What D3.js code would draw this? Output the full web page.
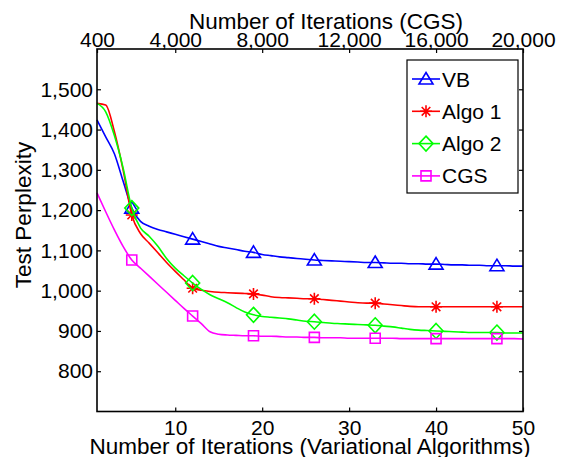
<!DOCTYPE html>
<html>
<head>
<meta charset="utf-8">
<script src="https://cdn.jsdelivr.net/npm/d3@7"></script>
<style>
  body { margin: 0; background: #fff; }
  text { font-family: "Liberation Sans", Arial, sans-serif; fill: #000; }
</style>
</head>
<body>
<div id="chart"></div>
<script>
// perplexity per iteration (1..50)
var vbVals = [1424, 1382, 1340, 1272, 1205, 1172, 1160, 1152, 1146, 1140,
  1134, 1128, 1122, 1116, 1110, 1106, 1102, 1098, 1095, 1090,
  1087, 1084, 1082, 1080, 1078, 1076, 1075, 1074, 1073, 1072,
  1071, 1070, 1070, 1069, 1068, 1068, 1067, 1067, 1066, 1066,
  1065, 1064, 1064, 1063, 1063, 1062, 1062, 1062, 1061, 1061]
var algo1Vals = [1465, 1461, 1395, 1300, 1188, 1142, 1118, 1094, 1070, 1048,
  1027, 1006, 1001, 998, 996, 995, 994, 993, 992, 989,
  985, 983, 982, 981, 980, 980, 978, 976, 974, 972,
  970, 969, 969, 967, 965, 963, 961, 960, 960, 960,
  960, 960, 960, 960, 960, 960, 960, 960, 960, 960]
var algo2Vals = [1465, 1444, 1385, 1305, 1205, 1156, 1135, 1110, 1080, 1056,
  1037, 1019, 1003, 990, 980, 970, 958, 947, 940, 936,
  934, 932, 930, 927, 924, 923, 921, 919, 918, 917,
  916, 915, 914, 912, 910, 907, 904, 902, 901, 900,
  899, 898, 897, 896, 896, 896, 896, 895, 895, 895]
var cgsVals = [1243, 1196, 1151, 1110, 1076, 1056, 1036, 1016, 996, 976,
  956, 937, 918, 898, 892, 890, 889, 888, 888, 887,
  887, 886, 885, 885, 884, 884, 883, 883, 883, 882,
  882, 882, 882, 882, 882, 881, 881, 881, 881, 881,
  881, 881, 881, 881, 881, 881, 881, 881, 881, 880]

var markerIters = [5, 12, 19, 26, 33, 40, 47]
var bottomTicks = [10, 20, 30, 40, 50]
var topTicks = [400, 4000, 8000, 12000, 16000, 20000]
var yTicks = [800, 900, 1000, 1100, 1200, 1300, 1400, 1500]

var seriesNames = ['VB', 'Algo 1', 'Algo 2', 'CGS']
var seriesVals = [vbVals, algo1Vals, algo2Vals, cgsVals]
var seriesColors = ['#0000ff', '#ff0000', '#00ff00', '#ff00ff']
var seriesMarkers = ['triangle', 'star', 'diamond', 'square']

var width = 561
var height = 457
// plot box (note: "top" is taken by window.top, so prefix everything)
var pLeft = 97, pRight = 523, pTop = 49, pBottom = 411.5

var x = d3.scaleLinear().domain([1, 50]).range([pLeft, pRight])
var xTop = d3.scaleLinear().domain([400, 20000]).range([pLeft, pRight])
var y = d3.scaleLinear().domain([700, 1600]).range([pBottom, pTop])

var svg = d3.select('#chart').append('svg')
  .attr('width', width)
  .attr('height', height)

function markerPath(type) {
  if (type == 'triangle') return 'M0,-6.5L7,5L-7,5Z'
  if (type == 'diamond') return 'M0,-7.5L7,0L0,7.5L-7,0Z'
  if (type == 'square') return 'M-5,-5H5V5H-5Z'
  // matlab style asterisk: + and x on top of each other
  return 'M-6,0H6M0,-6V6M-4.3,-4.3L4.3,4.3M-4.3,4.3L4.3,-4.3'
}

var line = d3.line()
  .curve(d3.curveMonotoneX)
  .x(function (d, i) { return x(i + 1) })
  .y(function (d) { return y(d) })

// lines
seriesVals.forEach(function (vals, k) {
  svg.append('path')
    .datum(vals)
    .attr('d', line)
    .attr('fill', 'none')
    .attr('stroke', seriesColors[k])
    .attr('stroke-width', 1.6)

  svg.selectAll('.m' + k)
    .data(markerIters)
    .enter()
    .append('path')
    .attr('class', 'm' + k)
    .attr('transform', function (it) {
      return 'translate(' + x(it) + ',' + y(vals[it - 1]) + ')'
    })
    .attr('d', markerPath(seriesMarkers[k]))
    .attr('fill', 'none')
    .attr('stroke', seriesColors[k])
    .attr('stroke-width', 1.6)
})

// axes (ticks point inwards like matlab)
var fmt = d3.format(',')

var gBottom = svg.append('g')
  .attr('transform', 'translate(0,' + pBottom + ')')
  .call(d3.axisBottom(x).tickValues(bottomTicks).tickSize(-4).tickPadding(9))
var gTop = svg.append('g')
  .attr('transform', 'translate(0,' + pTop + ')')
  .call(d3.axisTop(xTop).tickValues(topTicks).tickFormat(fmt).tickSize(-4).tickPadding(2.5))
var gLeft = svg.append('g')
  .attr('transform', 'translate(' + pLeft + ',0)')
  .call(d3.axisLeft(y).tickValues(yTicks).tickFormat(fmt).tickSize(-4).tickPadding(4))
var gRight = svg.append('g')
  .attr('transform', 'translate(' + pRight + ',0)')
  .call(d3.axisRight(y).tickValues(yTicks).tickFormat('').tickSize(-4))

;[gBottom, gTop, gLeft, gRight].forEach(function (g) {
  g.select('.domain').remove()
  g.selectAll('.tick line').attr('stroke', '#000').attr('stroke-width', 1.2)
  g.selectAll('.tick text')
    .style('font-family', '"Liberation Sans", Arial, sans-serif')
    .style('font-size', '21px')
    .attr('fill', '#000')
})

svg.append('rect')
  .attr('x', pLeft).attr('y', pTop)
  .attr('width', pRight - pLeft).attr('height', pBottom - pTop)
  .attr('fill', 'none')
  .attr('stroke', '#000')
  .attr('stroke-width', 1.6)

// axis titles
svg.append('text')
  .attr('x', 326).attr('y', 29)
  .attr('text-anchor', 'middle')
  .style('font-size', '22.5px')
  .text('Number of Iterations (CGS)')

svg.append('text')
  .attr('x', 310).attr('y', 454)
  .attr('text-anchor', 'middle')
  .style('font-size', '22.5px')
  .text('Number of Iterations (Variational Algorithms)')

svg.append('text')
  .attr('transform', 'translate(31,215) rotate(-90)')
  .attr('text-anchor', 'middle')
  .style('font-size', '22.5px')
  .text('Test Perplexity')

// legend
var legend = svg.append('g')
legend.append('rect')
  .attr('x', 407).attr('y', 60)
  .attr('width', 111).attr('height', 133)
  .attr('fill', '#fff')
  .attr('stroke', '#000')
  .attr('stroke-width', 1.2)

var items = legend.selectAll('.item')
  .data(seriesNames)
  .enter()
  .append('g')
  .attr('class', 'item')
  .attr('transform', function (d, i) { return 'translate(0,' + (79 + i * 32.3) + ')' })

items.append('line')
  .attr('x1', 412).attr('x2', 440)
  .attr('stroke', function (d, i) { return seriesColors[i] })
  .attr('stroke-width', 1.6)
items.append('path')
  .attr('transform', 'translate(426,0)')
  .attr('d', function (d, i) { return markerPath(seriesMarkers[i]) })
  .attr('fill', 'none')
  .attr('stroke', function (d, i) { return seriesColors[i] })
  .attr('stroke-width', 1.6)
items.append('text')
  .attr('x', 442)
  .attr('dy', '0.36em')
  .style('font-size', '21px')
  .text(function (d) { return d })
</script>
</body>
</html>
